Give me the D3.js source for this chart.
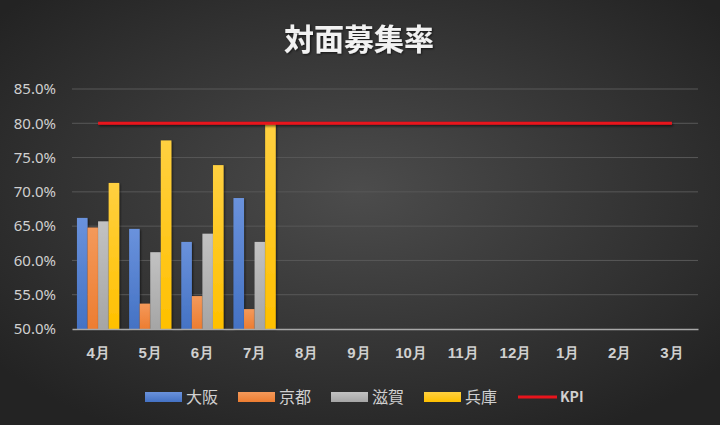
<!DOCTYPE html>
<html>
<head>
<meta charset="utf-8">
<script src="https://cdn.jsdelivr.net/npm/d3@7"></script>
<style>
  body { margin: 0; background: #2b2b2b; }
  svg { display: block; font-family: "Noto Sans CJK JP", "Noto Sans", sans-serif; }
</style>
</head>
<body>
<div id="chart"></div>
<script>
const months = ["4月", "5月", "6月", "7月", "8月", "9月", "10月", "11月", "12月", "1月", "2月", "3月"];
const seriesNames = ["大阪", "京都", "滋賀", "兵庫"];
const osaka = [0.662, 0.646, 0.627, 0.691];
const kyoto = [0.648, 0.537, 0.548, 0.529];
const shiga = [0.657, 0.612, 0.639, 0.627];
const hyogo = [0.713, 0.775, 0.739, 0.799];
const kpi = [0.8, 0.8, 0.8, 0.8, 0.8, 0.8, 0.8, 0.8, 0.8, 0.8, 0.8, 0.8];
const yTicks = [0.5, 0.55, 0.6, 0.65, 0.7, 0.75, 0.8, 0.85];

const width = 720, height = 425;
const margin = {top: 89, right: 22, bottom: 96, left: 72};
const colors = ["#4472c4", "#ed7d31", "#a5a5a5", "#ffc000"];
const lightColors = ["#6a92dc", "#f4995a", "#c2c2c2", "#ffd040"];

const svg = d3.select("#chart")
    .append("svg")
    .attr("width", width)
    .attr("height", height);

const defs = svg.append("defs");

// background gradient
const bg = defs.append("radialGradient")
    .attr("id", "bg")
    .attr("cx", "50%").attr("cy", "45%").attr("r", "65%");
bg.append("stop").attr("offset", "0%").attr("stop-color", "#4c4c4c");
bg.append("stop").attr("offset", "100%").attr("stop-color", "#232323");

colors.forEach((c, i) => {
    const g = defs.append("linearGradient")
        .attr("id", "bar" + i)
        .attr("x1", 0).attr("y1", 0).attr("x2", 0).attr("y2", 1);
    g.append("stop").attr("offset", "0%").attr("stop-color", lightColors[i]);
    g.append("stop").attr("offset", "100%").attr("stop-color", c);
});

const shadow = defs.append("filter").attr("id", "shadow")
    .attr("x", "-20%").attr("y", "-20%").attr("width", "160%").attr("height", "160%");
shadow.append("feDropShadow")
    .attr("dx", 1).attr("dy", 1).attr("stdDeviation", 1.2)
    .attr("flood-color", "#000").attr("flood-opacity", 0.6);

// flat shapes (horizontal line) need a user-space filter region
const lineShadow = defs.append("filter").attr("id", "lineShadow")
    .attr("filterUnits", "userSpaceOnUse")
    .attr("x", 0).attr("y", 0).attr("width", width).attr("height", height);
lineShadow.append("feDropShadow")
    .attr("dx", 1).attr("dy", 1.5).attr("stdDeviation", 1.2)
    .attr("flood-color", "#000").attr("flood-opacity", 0.6);

svg.append("rect")
    .attr("width", width)
    .attr("height", height)
    .attr("fill", "url(#bg)");

// title
svg.append("text")
    .attr("x", 359)
    .attr("y", 50)
    .attr("text-anchor", "middle")
    .attr("fill", "#f2f2f2")
    .style("font-size", "30px")
    .style("font-weight", "bold")
    .attr("filter", "url(#shadow)")
    .text("対面募集率");

const plotW = width - margin.left - margin.right;
const plotH = height - margin.top - margin.bottom;

const g = svg.append("g")
    .attr("transform", `translate(${margin.left},${margin.top})`);

const x0 = d3.scaleBand()
    .domain(months)
    .range([0, plotW])
    .padding(0);

const groupW = x0.bandwidth() * 0.81;
const x1 = d3.scaleBand()
    .domain(seriesNames)
    .range([(x0.bandwidth() - groupW) / 2, (x0.bandwidth() + groupW) / 2])
    .padding(0);

const y = d3.scaleLinear()
    .domain([0.5, 0.85])
    .range([plotH, 0]);

// gridlines
g.selectAll(".grid")
    .data(yTicks.slice(1))
    .enter()
    .append("line")
    .attr("x1", 0)
    .attr("x2", plotW)
    .attr("y1", d => y(d))
    .attr("y2", d => y(d))
    .attr("stroke", "#585858")
    .attr("stroke-width", 1);

// y axis labels
const yAxis = g.append("g")
    .call(d3.axisLeft(y).tickValues(yTicks).tickFormat(d3.format(".1%")).tickSize(0).tickPadding(16));
yAxis.select(".domain").remove();
yAxis.selectAll("text")
    .attr("fill", "#d0d0d0")
    .style("font-size", "15px")
    .style("font-family", "'Noto Sans', sans-serif");

// bars
const seriesData = [osaka, kyoto, shiga, hyogo];
seriesData.forEach((vals, si) => {
    g.selectAll(".bar" + si)
        .data(vals)
        .enter()
        .append("rect")
        .attr("x", (d, i) => x0(months[i]) + x1(seriesNames[si]))
        .attr("width", x1.bandwidth())
        .attr("y", d => y(d))
        .attr("height", d => plotH - y(d))
        .attr("fill", "url(#bar" + si + ")")
        .attr("filter", "url(#shadow)");
});

// x axis
const xAxis = g.append("g")
    .attr("transform", `translate(0,${plotH})`)
    .call(d3.axisBottom(x0).tickSize(0).tickPadding(18));
xAxis.select(".domain")
    .attr("stroke", "#a8a8a8")
    .attr("stroke-width", 1.5);
xAxis.selectAll("text")
    .attr("fill", "#d0d0d0")
    .style("font-size", "15px")
    .style("font-weight", "bold");

// KPI line
const line = d3.line()
    .x((d, i) => x0(months[i]) + x0.bandwidth() / 2)
    .y(d => y(d));
g.append("path")
    .datum(kpi)
    .attr("d", line)
    .attr("fill", "none")
    .attr("stroke", "#e8141c")
    .attr("stroke-width", 3)
    .attr("filter", "url(#lineShadow)");

// legend
const legendItems = [
    {label: "大阪", x: 145, type: "rect", color: "url(#bar0)"},
    {label: "京都", x: 238, type: "rect", color: "url(#bar1)"},
    {label: "滋賀", x: 331, type: "rect", color: "url(#bar2)"},
    {label: "兵庫", x: 424, type: "rect", color: "url(#bar3)"},
    {label: "KPI", x: 518, type: "line", color: "#e8141c"}
];
const legend = svg.append("g").attr("transform", "translate(0,397)");
legendItems.forEach(d => {
    if (d.type === "rect") {
        legend.append("rect")
            .attr("x", d.x).attr("y", -5)
            .attr("width", 37).attr("height", 10)
            .attr("fill", d.color);
    } else {
        legend.append("line")
            .attr("x1", d.x).attr("x2", d.x + 39)
            .attr("y1", 0).attr("y2", 0)
            .attr("stroke", d.color).attr("stroke-width", 3);
    }
    legend.append("text")
        .attr("x", d.x + (d.type === "rect" ? 41 : 42))
        .attr("y", 0)
        .attr("dy", "0.36em")
        .attr("fill", "#d0d0d0")
        .style("font-size", d.type === "rect" ? "16px" : "14px")
        .style("font-weight", d.type === "rect" ? "normal" : "bold")
        .text(d.label);
});
</script>
</body>
</html>
